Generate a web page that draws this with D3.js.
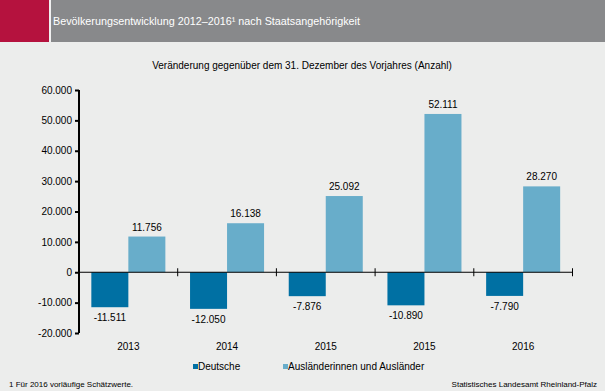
<!DOCTYPE html>
<html><head><meta charset="utf-8">
<script src="https://cdn.jsdelivr.net/npm/d3@7"></script>
<style>body{margin:0;background:#ecedec;}svg{display:block;font-family:"Liberation Sans",Arial,sans-serif;}</style>
</head><body>
<script>
const categories = ["2013","2014","2015","2015","2016"];
const deutsche = [-11511,-12050,-7876,-10890,-7790];
const auslaender = [11756,16138,25092,52111,28270];
const yTicks = [-20000,-10000,0,10000,20000,30000,40000,50000,60000];
const seriesNames = ["Deutsche","Ausländerinnen und Ausländer"];
const colors = ["#0070a3","#68adca"];

const W=605,H=391;
const svg=d3.select("body").append("svg").attr("width",W).attr("height",H);
svg.append("rect").attr("width",W).attr("height",H).attr("fill","#ecedec");
svg.append("rect").attr("x",0).attr("y",0).attr("width",W).attr("height",42).attr("fill","#88898b");
svg.append("rect").attr("x",0).attr("y",0).attr("width",49).attr("height",42).attr("fill","#b5123e");
svg.append("rect").attr("x",49).attr("y",0).attr("width",2).attr("height",42).attr("fill","#f0f0f0");
svg.append("text").attr("x",53).attr("y",25).attr("fill","#fff").attr("font-size",11.5)
  .attr("textLength",307).attr("lengthAdjust","spacingAndGlyphs")
  .text("Bevölkerungsentwicklung 2012–2016¹ nach Staatsangehörigkeit");

svg.append("text").attr("x",302).attr("y",69).attr("text-anchor","middle").attr("font-size",10).attr("fill","#000")
  .text("Veränderung gegenüber dem 31. Dezember des Vorjahres (Anzahl)");

const x0=79,x1=572.5;
const y=d3.scaleLinear().domain([-20000,60000]).range([333,90]);
const x=d3.scaleBand().domain(d3.range(categories.length)).range([x0,x1]).paddingInner(0.25).paddingOuter(0.125);
const fmt=v=>d3.format(",")(v).replace(/,/g,".").replace("\u2212","-");

const g=svg.append("g");
const bw=x.bandwidth()/2;
[deutsche,auslaender].forEach((arr,si)=>{
  g.selectAll(null).data(arr).enter().append("rect")
    .attr("x",(d,i)=>x(i)+si*bw).attr("width",bw)
    .attr("y",d=>Math.min(y(d),y(0))).attr("height",d=>Math.abs(y(d)-y(0)))
    .attr("fill",colors[si]);
  g.selectAll(null).data(arr).enter().append("text")
    .attr("x",(d,i)=>x(i)+si*bw+bw/2)
    .attr("y",d=>d<0?y(d)+14:y(d)-6)
    .attr("text-anchor","middle").attr("font-size",10).attr("fill","#000")
    .text(d=>fmt(d));
});

// y axis
const ya=svg.append("g").attr("transform",`translate(${x0},0)`)
  .call(d3.axisLeft(y).tickValues(yTicks).tickSize(4).tickFormat(fmt));
ya.select(".domain").attr("stroke","#000").attr("stroke-width",2).attr("d",`M0,${y(60000)}V${y(-20000)}`);
ya.selectAll(".tick line").attr("stroke","#000").attr("stroke-width",2);
ya.selectAll(".tick text").attr("font-size",10).attr("fill","#000").attr("x",-7).attr("font-family","Liberation Sans, Arial, sans-serif");

// x axis at zero
const xa=svg.append("g");
xa.append("line").attr("x1",x0).attr("x2",x1).attr("y1",y(0)).attr("y2",y(0)).attr("stroke","#000").attr("stroke-width",1);
d3.range(1,categories.length+1).forEach(i=>{
  const xx=x0+ (x1-x0)*i/categories.length;
  xa.append("line").attr("x1",xx).attr("x2",xx).attr("y1",y(0)-4).attr("y2",y(0)+4).attr("stroke","#000");
});
xa.selectAll(null).data(categories).enter().append("text")
  .attr("x",(d,i)=>x(i)+x.bandwidth()/2).attr("y",350).attr("text-anchor","middle")
  .attr("font-size",10).attr("fill","#000").text(d=>d);

// legend
const leg=[[193,seriesNames[0]],[283,seriesNames[1]]];
leg.forEach(([lx,t],i)=>{
  svg.append("rect").attr("x",lx).attr("y",364).attr("width",5).attr("height",5).attr("fill",colors[i]);
  svg.append("text").attr("x",lx+5).attr("y",370).attr("font-size",10).attr("fill","#000").text(t);
});

svg.append("text").attr("x",9).attr("y",387).attr("font-size",8).attr("fill","#000").text("1 Für 2016 vorläufige Schätzwerte.");
svg.append("text").attr("x",597).attr("y",387).attr("text-anchor","end").attr("font-size",8).attr("fill","#000").text("Statistisches Landesamt Rheinland-Pfalz");
</script>
</body></html>
